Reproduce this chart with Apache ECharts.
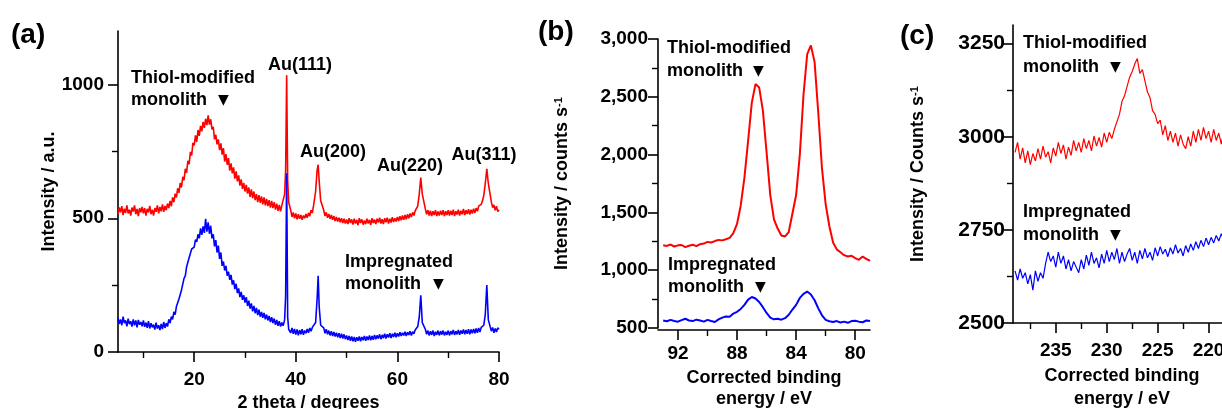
<!DOCTYPE html>
<html>
<head>
<meta charset="utf-8">
<script src="https://cdn.jsdelivr.net/npm/echarts@6/dist/echarts.min.js"></script>
<style>
html, body { margin: 0; padding: 0; background: #fff; }
#chart { width: 1222px; height: 409px; }
</style>
</head>
<body>
<div id="chart"></div>
<script>
// ---- (a) XRD ----
var xrdAngle = [
  5, 5.25, 5.5, 5.75, 6, 6.25, 6.5, 6.75, 7, 7.25, 7.5, 7.75, 8, 8.25, 8.5, 8.75, 9, 9.25, 9.5, 9.75,
  10, 10.25, 10.5, 10.75, 11, 11.25, 11.5, 11.75, 12, 12.25, 12.5, 12.75, 13, 13.25, 13.5, 13.75, 14, 14.25, 14.5, 14.75,
  15, 15.25, 15.5, 15.75, 16, 16.25, 16.5, 16.75, 17, 17.25, 17.5, 17.75, 18, 18.25, 18.5, 18.75, 19, 19.25, 19.5, 19.75,
  20, 20.25, 20.5, 20.75, 21, 21.25, 21.5, 21.75, 22, 22.25, 22.5, 22.75, 23, 23.25, 23.5, 23.75, 24, 24.25, 24.5, 24.75,
  25, 25.25, 25.5, 25.75, 26, 26.25, 26.5, 26.75, 27, 27.25, 27.5, 27.75, 28, 28.25, 28.5, 28.75, 29, 29.25, 29.5, 29.75,
  30, 30.25, 30.5, 30.75, 31, 31.25, 31.5, 31.75, 32, 32.25, 32.5, 32.75, 33, 33.25, 33.5, 33.75, 34, 34.25, 34.5, 34.75,
  35, 35.25, 35.5, 35.75, 36, 36.25, 36.5, 36.75, 37, 37.25, 37.5,
  37.8, 38.0, 38.2, 38.4, 38.6,
  39, 39.25, 39.5, 39.75, 40, 40.25, 40.5, 40.75, 41, 41.25, 41.5, 41.75, 42, 42.25, 42.5, 42.75, 43, 43.25, 43.5,
  43.9, 44.2, 44.4, 44.6, 44.9,
  45.5, 45.75, 46, 46.25, 46.5, 46.75, 47, 47.25, 47.5, 47.75, 48, 48.25, 48.5, 48.75, 49, 49.25, 49.5, 49.75,
  50, 50.25, 50.5, 50.75, 51, 51.25, 51.5, 51.75, 52, 52.25, 52.5, 52.75, 53, 53.25, 53.5, 53.75, 54, 54.25, 54.5, 54.75,
  55, 55.25, 55.5, 55.75, 56, 56.25, 56.5, 56.75, 57, 57.25, 57.5, 57.75, 58, 58.25, 58.5, 58.75, 59, 59.25, 59.5, 59.75,
  60, 60.25, 60.5, 60.75, 61, 61.25, 61.5, 61.75, 62, 62.25, 62.5, 62.75, 63, 63.25, 63.5, 63.75, 64,
  64.3, 64.6, 64.9,
  65.5, 65.75, 66, 66.25, 66.5, 66.75, 67, 67.25, 67.5, 67.75, 68, 68.25, 68.5, 68.75, 69, 69.25, 69.5, 69.75,
  70, 70.25, 70.5, 70.75, 71, 71.25, 71.5, 71.75, 72, 72.25, 72.5, 72.75, 73, 73.25, 73.5, 73.75, 74, 74.25, 74.5, 74.75,
  75, 75.25, 75.5, 75.75, 76, 76.25, 76.5, 76.75, 77,
  77.3, 77.6, 77.9,
  78.5, 78.75, 79, 79.25, 79.5, 79.75, 80
];
var xrdThiol = [
  515, 540, 522, 545, 512, 536, 520, 548, 518, 532, 510, 540, 525, 548, 515, 535, 508, 538, 522, 542,
  518, 538, 510, 535, 522, 546, 515, 532, 510, 538, 524, 548, 518, 542, 526, 552, 524, 546, 530, 555,
  538, 565, 545, 578, 560, 592, 578, 612, 595, 632, 615, 655, 642, 685, 670, 715, 702, 748, 735, 782,
  772, 810, 785, 830, 808, 845, 825, 860, 838, 872, 848, 885, 850, 870, 832, 842, 795, 812, 776, 795,
  755, 780, 738, 762, 712, 740, 700, 725, 678, 705, 668, 690, 648, 675, 638, 660, 622, 645, 610, 632,
  600, 625, 592, 615, 580, 608, 575, 600, 568, 590, 560, 586, 558, 582, 552, 578, 548, 572, 545, 568,
  540, 565, 538, 560, 532, 555, 528, 550, 526, 548, 552,
  590, 680, 1035, 640, 560,
  530, 505, 522, 500, 518, 496, 515, 498, 512, 494, 510, 500, 516, 502, 520, 508, 530, 520, 548,
  600, 680, 700, 640, 565,
  530, 508, 522, 502, 516, 498, 512, 494, 508, 490, 505, 488, 502, 485, 500, 482, 498, 480,
  495, 478, 500, 482, 496, 476, 498, 480, 494, 474, 500, 482, 496, 476, 492, 478, 498, 480, 494, 475,
  500, 482, 495, 478, 498, 484, 502, 480, 496, 478, 500, 485, 502, 480, 498, 484, 504, 486, 500, 488,
  505, 490, 508, 492, 510, 494, 512, 496, 515, 500, 518, 505, 522, 510, 528, 532, 545,
  590, 652, 590,
  535, 515, 530, 510, 528, 508, 526, 512, 530, 508, 525, 510, 528, 512, 530, 508, 526, 512,
  530, 510, 528, 512, 532, 508, 526, 514, 532, 510, 528, 515, 535, 512, 530, 516, 534, 514, 532, 518,
  536, 520, 538, 526, 545, 540, 552, 565, 585,
  630, 685, 630,
  560, 540, 550, 530, 545, 525, 532
];
var xrdImpregnated = [
  128, 105, 122, 100, 132, 108, 118, 96, 125, 104, 115, 95, 122, 100, 118, 92, 120, 102, 112, 96,
  118, 94, 110, 90, 115, 88, 108, 92, 102, 84, 110, 88, 100, 82, 105, 86, 112, 90, 108, 95,
  122, 108, 132, 122, 150, 140, 170, 168, 198, 200, 232, 238, 275, 285, 318, 320, 352, 355, 385, 385,
  392, 420, 412, 440, 425, 462, 438, 470, 445, 498, 450, 485, 442, 472, 425, 440, 395, 418, 372, 398,
  348, 372, 322, 338, 305, 322, 285, 300, 270, 288, 252, 268, 235, 255, 220, 238, 205, 225, 195, 212,
  185, 205, 172, 192, 162, 182, 152, 172, 145, 165, 138, 158, 132, 150, 128, 146, 122, 140, 118, 135,
  112, 130, 108, 125, 102, 120, 98, 115, 95, 110, 98,
  120, 210, 668, 130, 85,
  72, 90, 68, 86, 65, 84, 62, 82, 66, 85, 64, 80, 70, 86, 72, 90, 78, 92, 98,
  110, 200, 285, 170, 100,
  90, 70, 85, 66, 80, 62, 78, 60, 75, 58, 72, 55, 70, 52, 68, 50, 66, 48,
  62, 45, 60, 42, 58, 40, 56, 38, 55, 42, 58, 40, 56, 44, 60, 42, 58, 45, 62, 44,
  60, 46, 64, 48, 62, 50, 66, 48, 64, 52, 68, 50, 66, 54, 70, 52, 68, 56, 72, 55,
  70, 58, 74, 60, 72, 62, 76, 60, 74, 64, 78, 62, 76, 68, 82, 78, 95,
  130, 212, 110,
  85, 66, 80, 62, 78, 64, 80, 60, 76, 64, 80, 62, 78, 65, 80, 62, 76, 64,
  80, 62, 78, 66, 82, 64, 78, 66, 82, 64, 80, 68, 84, 66, 82, 68, 85, 66, 84, 70,
  86, 70, 88, 72, 90, 75, 92, 85, 100,
  140, 250, 120,
  78, 92, 72, 88, 75, 90, 85
];
var xrdMajorX = [20, 40, 60, 80];
var xrdMinorX = [10, 30, 50, 70];
var xrdMajorY = [0, 500, 1000];
var xrdMinorY = [250, 750];
var auPeakLabels = ['Au(111)', 'Au(200)', 'Au(220)', 'Au(311)'];

// ---- (b) Au 4f XPS ----
var au4fEnergy = [
  93, 92.75, 92.5, 92.25, 92, 91.75, 91.5, 91.25, 91, 90.75, 90.5, 90.25, 90, 89.75, 89.5, 89.25,
  89, 88.75, 88.5, 88.25, 88, 87.75, 87.5, 87.25, 87, 86.75, 86.5, 86.25, 86, 85.75, 85.5, 85.25,
  85, 84.75, 84.5, 84.25, 84, 83.75, 83.5, 83.25, 83, 82.75, 82.5, 82.25, 82, 81.75, 81.5, 81.25,
  81, 80.75, 80.5, 80.25, 80, 79.75, 79.5, 79.25, 79
];
var au4fThiol = [
  1215, 1210, 1222, 1205, 1215, 1218, 1200, 1212, 1220, 1208, 1225, 1230, 1245, 1240, 1252, 1262,
  1258, 1268, 1280, 1320, 1400, 1560, 1800, 2120, 2450, 2610, 2580, 2380, 2020, 1650, 1440, 1360,
  1300, 1292, 1330, 1490, 1650, 2000, 2520, 2870, 2945, 2800, 2360, 1880, 1570, 1380, 1240, 1180,
  1155, 1130, 1118, 1125, 1105, 1090, 1118, 1098, 1080
];
var au4fImpregnated = [
  565, 558, 570, 560, 555, 568, 580, 565, 560, 572, 565, 555, 570, 560, 552, 575,
  590, 600, 598, 625, 640, 665, 700, 745, 768, 755, 725, 680, 630, 590, 575, 580,
  572, 585, 615, 660, 700, 760, 795, 815, 790, 740, 670, 610, 570, 558, 552, 560,
  548, 555, 545, 560, 562, 555, 550, 565, 560
];
var au4fMajorX = [92, 88, 84, 80];
var au4fMinorX = [90, 86, 82];
var au4fMajorY = [500, 1000, 1500, 2000, 2500, 3000];
var au4fMinorY = [750, 1250, 1750, 2250, 2750];

// ---- (c) S 2s XPS ----
var s2sEnergy = [
  239, 238.75, 238.5, 238.25, 238, 237.75, 237.5, 237.25, 237, 236.75, 236.5, 236.25,
  236, 235.75, 235.5, 235.25, 235, 234.75, 234.5, 234.25, 234, 233.75, 233.5, 233.25,
  233, 232.75, 232.5, 232.25, 232, 231.75, 231.5, 231.25, 231, 230.75, 230.5, 230.25,
  230, 229.75, 229.5, 229.25, 229, 228.75, 228.5, 228.25, 228, 227.75, 227.5, 227.25,
  227, 226.75, 226.5, 226.25, 226, 225.75, 225.5, 225.25, 225, 224.75, 224.5, 224.25,
  224, 223.75, 223.5, 223.25, 223, 222.75, 222.5, 222.25, 222, 221.75, 221.5, 221.25,
  221, 220.75, 220.5, 220.25, 220, 219.75, 219.5, 219.25, 219, 218.75, 218.5, 218.25, 218
];
var s2sThiol = [
  2958, 2985, 2940, 2970, 2930, 2962, 2925, 2955, 2935, 2968, 2940, 2975,
  2945, 2960, 2930, 2970, 2948, 2985, 2955, 2978, 2940, 2972, 2950, 2990,
  2962, 2985, 2958, 2995, 2968, 2990, 2962, 3002, 2975, 2998, 2972, 3010,
  2985, 3012, 2995, 3020, 3040, 3060, 3095, 3110, 3135, 3160, 3175, 3195,
  3210, 3170, 3180, 3150, 3120, 3105, 3070, 3060, 3035, 3045, 3005, 3030,
  2990, 3015, 2985, 3010, 2975, 3005, 2980, 2968, 3000, 2975, 3015, 2985,
  3020, 2990, 3025, 2995, 3015, 2985, 3020, 2990, 3010, 2980, 3015, 2995, 3005
];
var s2sImpregnated = [
  2640, 2615, 2645, 2620, 2635, 2605, 2630, 2588, 2640, 2612, 2635, 2620,
  2660, 2690, 2665, 2680, 2650, 2690, 2660, 2680, 2645, 2670, 2640, 2665,
  2650, 2635, 2670, 2645, 2682, 2655, 2690, 2660, 2675, 2648, 2685, 2660,
  2695, 2665, 2690, 2670, 2700, 2660, 2690, 2665, 2685, 2700, 2668, 2690,
  2660, 2695, 2672, 2700, 2675, 2690, 2668, 2702, 2680, 2705, 2685, 2698,
  2678, 2702, 2685, 2710, 2688, 2700, 2680, 2708, 2690, 2712, 2695, 2718,
  2700, 2722, 2705, 2728, 2710, 2730, 2715, 2735, 2720, 2740, 2722, 2738, 2730
];
var s2sMajorX = [235, 230, 225, 220];
var s2sMinorX = [237.5, 232.5, 227.5, 222.5];
var s2sMajorY = [2500, 2750, 3000, 3250];
var s2sMinorY = [2625, 2875, 3125];

var FONT = '"Liberation Sans", Arial, sans-serif';
var RED = '#ff0000';
var BLUE = '#0000ff';

function zip(xs, ys) {
  return xs.map(function (x, i) { return [x, ys[i]]; });
}
function commas(v) {
  return String(v).replace(/\B(?=(\d{3})+(?!\d))/g, ',');
}
function plain(v) {
  return String(v);
}

var lbl = { color: '#000', fontFamily: FONT, fontWeight: 'bold', fontSize: 19 };
var axisLine = { show: true, lineStyle: { color: '#000', width: 1.6 } };

function majorAxis(grid, min, max, ticks, pos, o) {
  return Object.assign({
    type: 'value', gridIndex: grid, min: min, max: max, position: pos,
    axisLine: axisLine,
    axisTick: { show: true, inside: false, length: 10, customValues: ticks, lineStyle: { color: '#000', width: 1.6 } },
    axisLabel: Object.assign({ customValues: ticks, formatter: plain }, lbl, o.label || {}),
    splitLine: { show: false },
    nameTextStyle: { color: '#000', fontFamily: FONT, fontWeight: 'bold', fontSize: 18 }
  }, o.extra || {});
}
function minorAxis(grid, min, max, ticks, pos, o) {
  return Object.assign({
    type: 'value', gridIndex: grid, min: min, max: max, position: pos,
    axisLine: { show: false },
    axisTick: { show: true, inside: false, length: 6, customValues: ticks, lineStyle: { color: '#000', width: 1.4 } },
    axisLabel: { show: false },
    splitLine: { show: false }
  }, o || {});
}

var supRich = {
  m: { fontFamily: FONT, fontWeight: 'bold', fontSize: 18, color: '#000' },
  s: { fontFamily: FONT, fontWeight: 'bold', fontSize: 11, color: '#000', verticalAlign: 'top', padding: [0, 0, 8, 0] }
};

var option = {
  animation: false,
  backgroundColor: '#fff',
  grid: [
    { left: 118, top: 31, width: 381, height: 321, outerBoundsMode: 'none', containLabel: false },
    { left: 658, top: 39, width: 212, height: 289, outerBoundsMode: 'none', containLabel: false },
    { left: 1013, top: 25, width: 218, height: 298, outerBoundsMode: 'none', containLabel: false }
  ],
  xAxis: [
    majorAxis(0, 5, 80, xrdMajorX, 'bottom', {
      label: { margin: 18 },
      extra: { name: '2 theta / degrees', nameLocation: 'middle', nameGap: 40 }
    }),
    minorAxis(0, 5, 80, xrdMinorX, 'bottom'),
    majorAxis(1, 79, 93.35, au4fMajorX, 'bottom', {
      label: { margin: 14 },
      extra: { inverse: true, offset: 2, name: 'Corrected binding\nenergy / eV', nameLocation: 'middle', nameGap: 36,
        nameTextStyle: { color: '#000', fontFamily: FONT, fontWeight: 'bold', fontSize: 18, lineHeight: 21 } }
    }),
    minorAxis(1, 79, 93.35, au4fMinorX, 'bottom', { inverse: true, offset: 2 }),
    majorAxis(2, 217.8, 239.2, s2sMajorX, 'bottom', {
      label: { margin: 18 },
      extra: { inverse: true, name: 'Corrected binding\nenergy / eV', nameLocation: 'middle', nameGap: 40,
        nameTextStyle: { color: '#000', fontFamily: FONT, fontWeight: 'bold', fontSize: 18, lineHeight: 23 } }
    }),
    minorAxis(2, 217.8, 239.2, s2sMinorX, 'bottom', { inverse: true })
  ],
  yAxis: [
    majorAxis(0, 0, 1200, xrdMajorY, 'left', {
      label: { margin: 14 },
      extra: { name: 'Intensity / a.u.', nameLocation: 'middle', nameRotate: 90, nameGap: 60 }
    }),
    minorAxis(0, 0, 1200, xrdMinorY, 'left'),
    majorAxis(1, 500, 3000, au4fMajorY, 'left', {
      label: { margin: 10, formatter: commas },
      extra: { name: '{m|Intensity / counts s}{s|-1}', nameLocation: 'middle', nameRotate: 90, nameGap: 86,
        nameTextStyle: { rich: supRich } }
    }),
    minorAxis(1, 500, 3000, au4fMinorY, 'left'),
    majorAxis(2, 2500, 3300, s2sMajorY, 'left', {
      label: { margin: 8, fontSize: 21 },
      extra: { name: '{m|Intensity / Counts s}{s|-1}', nameLocation: 'middle', nameRotate: 90, nameGap: 85,
        nameTextStyle: { rich: supRich } }
    }),
    minorAxis(2, 2500, 3300, s2sMinorY, 'left')
  ],
  series: [
    { type: 'line', xAxisIndex: 0, yAxisIndex: 0, data: zip(xrdAngle, xrdThiol), showSymbol: false, lineStyle: { color: RED, width: 1.6 } },
    { type: 'line', xAxisIndex: 0, yAxisIndex: 0, data: zip(xrdAngle, xrdImpregnated), showSymbol: false, lineStyle: { color: BLUE, width: 1.6 } },
    { type: 'line', xAxisIndex: 2, yAxisIndex: 2, data: zip(au4fEnergy, au4fThiol), showSymbol: false, lineStyle: { color: RED, width: 2 } },
    { type: 'line', xAxisIndex: 2, yAxisIndex: 2, data: zip(au4fEnergy, au4fImpregnated), showSymbol: false, lineStyle: { color: BLUE, width: 2 } },
    { type: 'line', xAxisIndex: 4, yAxisIndex: 4, data: zip(s2sEnergy, s2sThiol), showSymbol: false, lineStyle: { color: RED, width: 1.2 } },
    { type: 'line', xAxisIndex: 4, yAxisIndex: 4, data: zip(s2sEnergy, s2sImpregnated), showSymbol: false, lineStyle: { color: BLUE, width: 1.2 } }
  ]
};

// annotation texts
function txt(s, x, y, size, align) {
  return { type: 'text', x: x, y: y, z: 10, style: {
    text: s, fill: '#000', align: align || 'left', verticalAlign: 'middle',
    font: 'bold ' + (size || 18) + 'px ' + FONT } };
}
function tri(x, y) {
  return { type: 'text', x: x, y: y, z: 10, style: {
    text: '\u25BC', fill: '#000', align: 'left', verticalAlign: 'middle', font: '14px "DejaVu Sans"' } };
}
option.graphic = [
  txt('(a)', 11, 35, 28), txt('(b)', 538, 32, 28), txt('(c)', 900, 36, 28),
  txt('Thiol-modified', 131, 78), txt('monolith', 131, 100), tri(218, 100),
  txt(auPeakLabels[0], 300, 65, 18, 'center'),
  txt(auPeakLabels[1], 333, 152, 18, 'center'),
  txt(auPeakLabels[2], 410, 166, 18, 'center'),
  txt(auPeakLabels[3], 484, 155, 18, 'center'),
  txt('Impregnated', 345, 262), txt('monolith', 345, 284), tri(433, 284),
  txt('Thiol-modified', 667, 48), txt('monolith', 667, 71), tri(753, 71),
  txt('Impregnated', 668, 265), txt('monolith', 668, 287), tri(755, 287),
  txt('Thiol-modified', 1023, 43), txt('monolith', 1023, 67), tri(1110, 67),
  txt('Impregnated', 1023, 212), txt('monolith', 1023, 235), tri(1110, 235)
];

var chart = echarts.init(document.getElementById('chart'));
chart.setOption(option);
</script>
</body>
</html>
